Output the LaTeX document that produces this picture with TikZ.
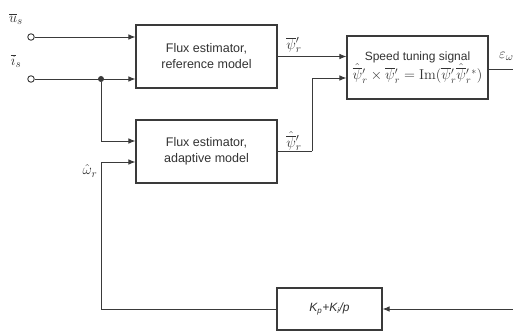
\documentclass[tikz,border=0pt]{standalone}
\usepackage[no-math]{fontspec}
\setmainfont{Liberation Sans}
\usetikzlibrary{arrows.meta,calc}
\definecolor{ln}{HTML}{3A3A3A}
\definecolor{tx}{HTML}{333333}
\tikzset{
  blk/.style={draw=ln, line width=1.1pt, inner sep=0pt, align=center, text=tx,
    font=\fontsize{12.5}{16}\selectfont},
  arr/.style={draw=ln, line width=0.9pt, -{Latex[length=7pt,width=5.5pt]}},
  wire/.style={draw=ln, line width=0.9pt},
  term/.style={circle, draw=ln, line width=0.9pt, fill=white, minimum size=6.5pt, inner sep=0pt},
  lbl/.style={text=tx, inner sep=0pt, font=\fontsize{15}{17}\selectfont}
}
\begin{document}
\begin{tikzpicture}[x=1pt,y=-1pt]
\useasboundingbox[fill=white] (0,0) rectangle (513,331);
\node[blk, minimum width=141pt, minimum height=63pt] (ref) at (206.5,56.5) {Flux estimator,\\reference model};
\node[blk, minimum width=141pt, minimum height=63pt] (ada) at (206.5,151.5) {Flux estimator,\\adaptive model};
\node[blk, minimum width=141pt, minimum height=63pt] (spd) at (417.5,67.5) {\fontsize{12}{14}\selectfont Speed tuning signal\\[0pt]
  \fontsize{14.5}{16}\selectfont$\hat{\overline{\psi}}{}'_r\times\overline{\psi}{}'_r=\mathrm{Im}(\overline{\psi}{}'_r\hat{\overline{\psi}}{}'_r{}^{*})$};
\node[blk, minimum width=105pt, minimum height=42pt] (pi) at (329.5,309) {\fontsize{12}{14}\selectfont\itshape K\textsubscript{p}+K\textsubscript{i}/p};
% terminals
\node[term] (us) at (31,37) {};
\node[term] (is) at (31,79) {};
\node[circle, fill=ln, minimum size=6pt, inner sep=0pt] (j) at (101,79) {};
% labels
\node[lbl] (lu) at (16,19) {$\overline{u}_s$};
\node[lbl] (li) at (16,61) {$\overline{i}_s$};
\node[lbl] (lw) at (90,171) {$\hat{\omega}_r$};
\node[lbl] (lp1) at (294,45) {$\overline{\psi}{}'_r$};
\node[lbl] (lp2) at (294,141) {$\hat{\overline{\psi}}{}'_r$};
\node[lbl, anchor=west] (le) at (499,56) {$\varepsilon_\omega$};
% coordinates
\coordinate (k) at (312,151.5);
\coordinate (wc) at (101,309);
\coordinate (er) at (513,309);
\coordinate (eo) at (513,69);
% connectors
\draw[arr] (us.east) -- (us -| ref.west);
\draw[arr] (is.east) -- (is -| ref.west);
\draw[arr] (j) |- ([yshift=10.5pt]ada.west);
\draw[arr] (ref.east) -- (ref.east -| spd.west);
\draw[wire] (ada.east) -- (k);
\draw[arr] (k) |- ([yshift=-10.5pt]spd.west);
\draw[wire] ([yshift=-1.5pt]spd.east) -- (eo);
\draw[arr] (er) -- (pi.east);
\draw[wire] (pi.west) -- (wc);
\draw[arr] (wc) |- ([yshift=-10.5pt]ada.west);
\end{tikzpicture}
\end{document}
